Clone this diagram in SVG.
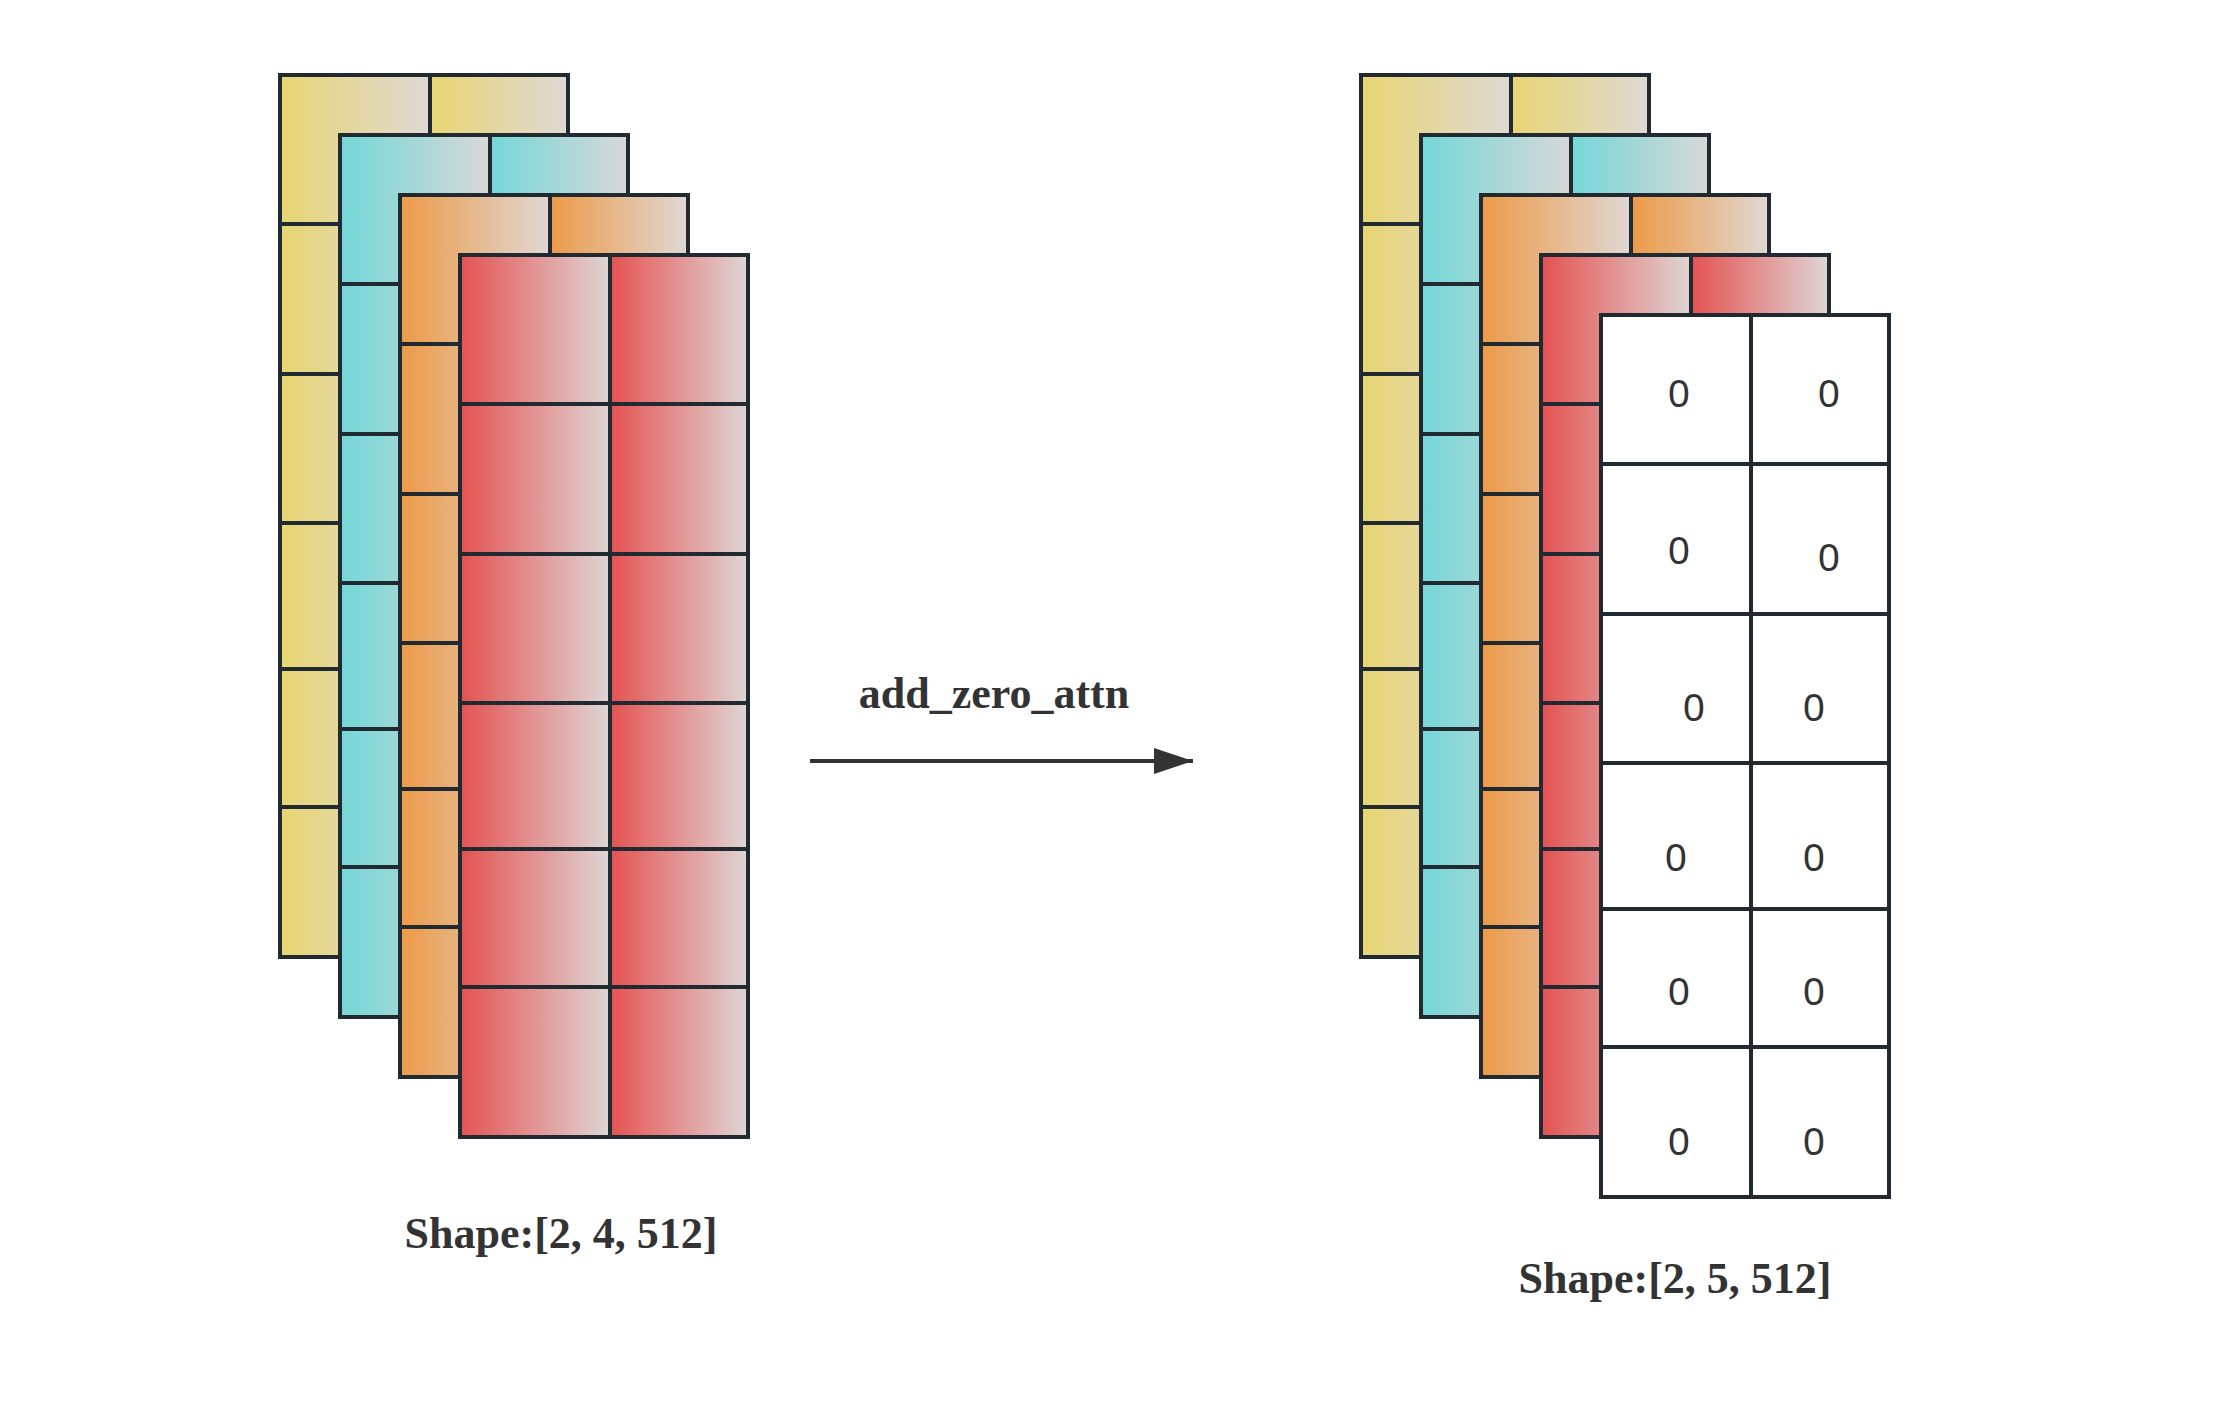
<svg xmlns="http://www.w3.org/2000/svg" width="2239" height="1406" viewBox="0 0 2239 1406">
<defs>
<linearGradient id="gy" x1="0" y1="0" x2="1" y2="0"><stop offset="0" stop-color="#e8d572"/><stop offset="1" stop-color="#dfd9d4"/></linearGradient>
<linearGradient id="gc" x1="0" y1="0" x2="1" y2="0"><stop offset="0" stop-color="#74d7d8"/><stop offset="1" stop-color="#d8d8d8"/></linearGradient>
<linearGradient id="go" x1="0" y1="0" x2="1" y2="0"><stop offset="0" stop-color="#ed9a47"/><stop offset="1" stop-color="#dfd8d4"/></linearGradient>
<linearGradient id="gr" x1="0" y1="0" x2="1" y2="0"><stop offset="0" stop-color="#e55252"/><stop offset="1" stop-color="#ded6d5"/></linearGradient>
<marker id="arr" viewBox="0 0 39 26" refX="39" refY="13" markerWidth="39" markerHeight="26" markerUnits="userSpaceOnUse" orient="auto"><path d="M0,0 L39,13 L0,26 Z" fill="#333333"/></marker>
<g id="grid">
<rect x="0" y="0" width="150" height="149"/><rect x="150" y="0" width="138" height="149"/>
<rect x="0" y="149" width="150" height="150"/><rect x="150" y="149" width="138" height="150"/>
<rect x="0" y="299" width="150" height="149"/><rect x="150" y="299" width="138" height="149"/>
<rect x="0" y="448" width="150" height="146"/><rect x="150" y="448" width="138" height="146"/>
<rect x="0" y="594" width="150" height="138"/><rect x="150" y="594" width="138" height="138"/>
<rect x="0" y="732" width="150" height="150"/><rect x="150" y="732" width="138" height="150"/>
</g>
</defs>
<style>
.cells{stroke:#222a31;stroke-width:4}
.y{fill:url(#gy)}.c{fill:url(#gc)}.o{fill:url(#go)}.r{fill:url(#gr)}.w{fill:#ffffff}
.lbl{font-family:"Liberation Serif","Times New Roman",serif;font-weight:bold;font-size:44px;fill:#333333;text-anchor:middle}
.z{font-family:"Noto Sans","Liberation Sans",sans-serif;font-size:39px;fill:#333333;text-anchor:middle}
</style>
<rect width="2239" height="1406" fill="#ffffff"/>
<g id="input-tensor" class="cells">
<g id="in-layer-1"><use href="#grid" class="y" transform="translate(280,75)"/></g>
<g id="in-layer-2"><use href="#grid" class="c" transform="translate(340,135)"/></g>
<g id="in-layer-3"><use href="#grid" class="o" transform="translate(400,195)"/></g>
<g id="in-layer-4"><use href="#grid" class="r" transform="translate(460,255)"/></g>
</g>
<g id="output-tensor" class="cells">
<g id="out-layer-1"><use href="#grid" class="y" transform="translate(1361,75)"/></g>
<g id="out-layer-2"><use href="#grid" class="c" transform="translate(1421,135)"/></g>
<g id="out-layer-3"><use href="#grid" class="o" transform="translate(1481,195)"/></g>
<g id="out-layer-4"><use href="#grid" class="r" transform="translate(1541,255)"/></g>
<g id="out-layer-zero"><use href="#grid" class="w" transform="translate(1601,315)"/></g>
</g>
<g id="zeros">
<text class="z" x="1679" y="407">0</text><text class="z" x="1829" y="407">0</text>
<text class="z" x="1679" y="564">0</text><text class="z" x="1829" y="571">0</text>
<text class="z" x="1694" y="721">0</text><text class="z" x="1814" y="721">0</text>
<text class="z" x="1676" y="871">0</text><text class="z" x="1814" y="871">0</text>
<text class="z" x="1679" y="1005">0</text><text class="z" x="1814" y="1005">0</text>
<text class="z" x="1679" y="1155">0</text><text class="z" x="1814" y="1155">0</text>
</g>
<g id="connectors">
<line x1="810" y1="761" x2="1193" y2="761" stroke="#333333" stroke-width="4" marker-end="url(#arr)"/>
</g>
<g id="labels">
<text class="lbl" x="994" y="708">add_zero_attn</text>
<text class="lbl" x="561" y="1248">Shape:[2, 4, 512]</text>
<text class="lbl" x="1675" y="1293">Shape:[2, 5, 512]</text>
</g>
</svg>
